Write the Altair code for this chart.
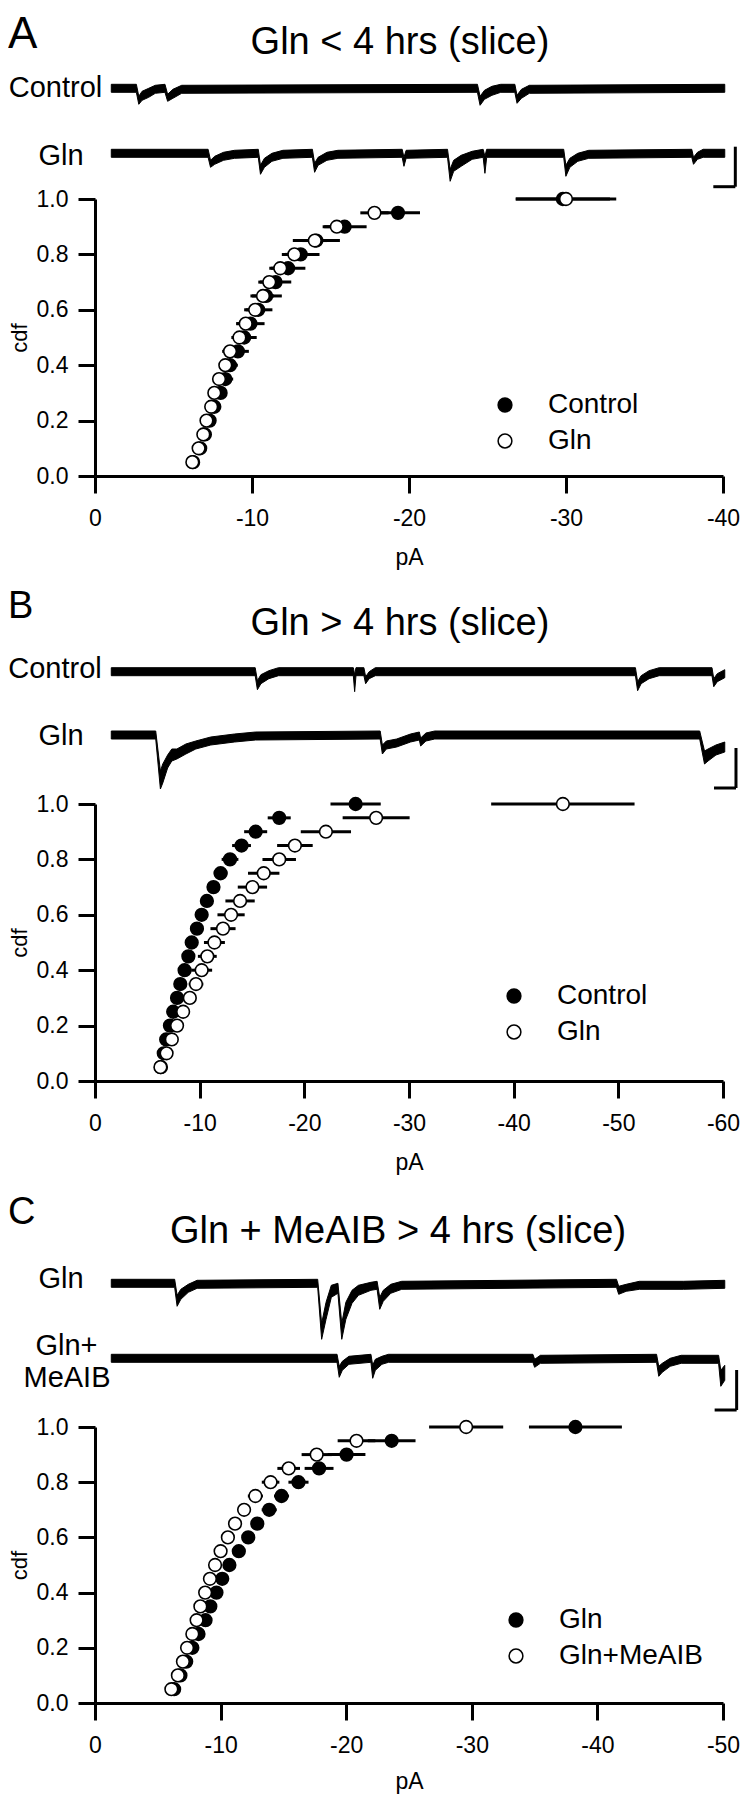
import altair as alt
import pandas as pd

FONT = "Liberation Sans"

# ------------------------------------------------------------------ data
CDF_LEVELS = [0.05, 0.10, 0.15, 0.20, 0.25, 0.30, 0.35, 0.40, 0.45, 0.50,
              0.55, 0.60, 0.65, 0.70, 0.75, 0.80, 0.85, 0.90, 0.95, 1.00]

PANEL_LETTERS = ["A", "B", "C"]
PANEL_TITLES = ["Gln < 4 hrs (slice)", "Gln > 4 hrs (slice)", "Gln + MeAIB > 4 hrs (slice)"]
SERIES_NAMES = [["Control", "Gln"], ["Control", "Gln"], ["Gln", "Gln+MeAIB"]]
X_TICKS = [[0, -10, -20, -30, -40], [0, -10, -20, -30, -40, -50, -60], [0, -10, -20, -30, -40, -50]]
Y_TICKS = [0.0, 0.2, 0.4, 0.6, 0.8, 1.0]

# panel A  (filled = Control, open = Gln)
A_CONTROL_PA = [-6.25, -6.7, -7.0, -7.3, -7.6, -8.0, -8.3, -8.6, -9.1, -9.5,
                -9.9, -10.4, -10.9, -11.5, -12.3, -13.1, -14.1, -15.9, -19.3, -29.8]
A_CONTROL_SEM = [0.2, 0.2, 0.3, 0.3, 0.3, 0.4, 0.5, 0.5, 0.7, 0.8,
                 0.9, 0.9, 1.0, 1.0, 1.1, 1.2, 1.5, 1.4, 1.4, 3.0]
A_GLN_PA = [-6.2, -6.6, -6.9, -7.1, -7.4, -7.6, -7.9, -8.3, -8.6, -9.2,
            -9.6, -10.2, -10.7, -11.1, -11.8, -12.7, -14.0, -15.4, -17.8, -30.0]
A_GLN_SEM = [0.2, 0.2, 0.2, 0.2, 0.3, 0.3, 0.4, 0.4, 0.5, 0.5,
             0.6, 0.6, 0.7, 0.7, 0.7, 0.6, 0.8, 0.8, 0.9, 3.2]

# panel B  (filled = Control, open = Gln)
B_CONTROL_PA = [-6.3, -6.57, -6.8, -7.16, -7.47, -7.84, -8.15, -8.56, -8.92, -9.24,
                -9.74, -10.19, -10.69, -11.32, -12.0, -12.9, -14.0, -15.35, -17.6, -24.9]
B_CONTROL_SEM = [0.2, 0.2, 0.2, 0.3, 0.3, 0.3, 0.3, 0.4, 0.4, 0.4,
                 0.5, 0.5, 0.5, 0.6, 0.65, 0.8, 0.9, 1.1, 1.1, 2.4]
B_GLN_PA = [-6.25, -6.84, -7.34, -7.84, -8.42, -9.06, -9.65, -10.19, -10.73, -11.41,
            -12.23, -13.0, -13.86, -15.04, -16.12, -17.6, -19.1, -22.06, -26.86, -44.7]
B_GLN_SEM = [0.2, 0.3, 0.3, 0.4, 0.5, 0.6, 0.7, 1.0, 0.9, 1.0,
             1.2, 1.3, 1.4, 1.4, 1.5, 1.6, 1.7, 2.4, 3.2, 6.85]

# panel C  (filled = Gln, open = Gln+MeAIB)
C_GLN_PA = [-6.3, -6.8, -7.26, -7.75, -8.24, -8.8, -9.18, -9.67, -10.13, -10.7,
            -11.45, -12.2, -12.92, -13.87, -14.85, -16.2, -17.84, -20.03, -23.62, -38.25]
C_GLN_SEM = [0.2, 0.2, 0.3, 0.3, 0.3, 0.4, 0.4, 0.4, 0.4, 0.5,
             0.5, 0.5, 0.5, 0.6, 0.6, 0.8, 1.15, 1.5, 1.9, 3.7]
C_MEAIB_PA = [-6.08, -6.6, -7.0, -7.33, -7.75, -8.09, -8.39, -8.77, -9.15, -9.56,
              -10.0, -10.58, -11.15, -11.87, -12.77, -13.98, -15.42, -17.65, -20.82, -29.55]
C_MEAIB_SEM = [0.2, 0.2, 0.2, 0.3, 0.3, 0.3, 0.3, 0.3, 0.4, 0.4,
               0.4, 0.4, 0.5, 0.5, 0.6, 0.7, 0.9, 1.2, 1.5, 2.95]

# example current traces: time (ms) and lower / upper edge of the noisy trace (pA)
A_CONTROL_T = [0, 57, 62.5, 70, 85, 100, 122, 128, 140, 160,
               832, 838, 848, 865, 885, 917, 922, 932, 950, 1394]
A_CONTROL_LO = [-2, -2, -8, -6, -4.5, -2.5, -2, -6.5, -5, -2.5,
                -2, -8.5, -5.5, -3.5, -2, -2, -7.5, -5, -2.5, -2]
A_CONTROL_HI = [2, 2, -4, -1.5, 0, 1.5, 2, -3, -0.5, 1.5,
                2, -4, -1, 1, 2, 2, -3.5, -0.5, 1.5, 2]

A_GLN_T = [0, 220, 225.5, 235, 255, 280, 334, 339, 348, 365, 390, 457, 462, 470, 490, 515,
           661, 665, 670, 764, 770, 778, 795, 820, 845, 849, 853,
           1028, 1033, 1042, 1060, 1085, 1319, 1323, 1332, 1345, 1394]
A_GLN_LO = [-2, -2, -7, -5.5, -3.5, -2.5, -2, -10.5, -7, -4, -2.5, -2, -9.5, -6, -3.5, -2.5,
            -2, -6.5, -2.5, -2, -14, -9, -6.5, -3, -2, -10, -2,
            -2, -11.5, -7, -4, -2.5, -2, -5.5, -3, -2, -2]
A_GLN_HI = [2, 2, -3.5, -1.5, 0.5, 1.5, 2, -6, -2.5, 0, 1.5, 2, -5, -2, 0.5, 1.5,
            2, -2, 1.5, 2, -8, -3.5, -1, 1, 2, -1.5, 2,
            2, -6, -2.5, 0, 1.5, 2, -2, 0.5, 2, 2]

B_CONTROL_T = [0, 327, 332, 340, 358, 380, 550, 553, 556, 574, 578, 586, 600,
               1191, 1196, 1204, 1222, 1245, 1365, 1369, 1377, 1394]
B_CONTROL_LO = [-2, -2, -9, -6, -3.5, -2, -2, -10, -2, -2, -6, -3.5, -2,
                -2, -9.5, -6, -3.5, -2, -2, -7.5, -5, -3]
B_CONTROL_HI = [2, 2, -4.5, -1.5, 0.5, 2, 2, -1.5, 2, 2, -2.5, 0, 2,
                2, -5, -2, 0.5, 2, 2, -3.5, -1, 1]

B_GLN_T = [0, 101, 111.6, 117, 128, 137.5, 149, 169.5, 192, 226, 280, 328,
           611, 616, 625, 648.5, 680, 700, 703, 715, 735, 1337, 1348, 1356, 1374, 1394]
B_GLN_LO = [-2, -2, -27, -24, -16.5, -13, -12, -9.5, -7, -5, -3.5, -2.5,
            -2, -9.5, -7, -6, -3.5, -2.5, -5.5, -3, -2, -2, -14.5, -13, -10, -8.5]
B_GLN_HI = [2, 2, -18, -14.5, -10, -7, -7, -4.5, -3, -1, 0.5, 1.5,
            2, -5, -3, -2, 0.5, 1.5, -1.5, 1, 2, 2, -8, -7, -5, -3.5]

C_GLN_T = [0, 144, 149.6, 158, 175, 195, 469, 478, 488, 500, 515, 523.7, 533, 547, 561.6, 590,
           604, 610, 618, 635, 660, 1148, 1153, 1170, 1200, 1300, 1394]
C_GLN_LO = [-2, -2, -11.5, -8, -4.5, -2.5, -2, -28, -18, -7, -5, -28, -18, -10, -6, -3.5,
            -3, -13, -9, -5, -3, -2, -5.5, -4, -3, -3, -2.5]
C_GLN_HI = [2, 2, -6, -3, -0.5, 1.5, 2, -20, -9.5, -1, 0, -20, -9.5, -3.5, -1, 0.5,
            1, -7, -3.5, -0.5, 1, 2, -1.5, -0.5, 1, 1, 1.5]

C_MEAIB_T = [0, 513, 518, 525, 540, 590, 594, 600, 615, 630, 958, 962, 975,
             1239, 1244, 1252, 1270, 1295, 1380, 1385, 1394]
C_MEAIB_LO = [-2, -2, -9.5, -6, -3, -2, -10, -6, -3, -2, -2, -4.5, -2.5,
              -2, -9, -7, -4, -2.5, -2.5, -14, -11]
C_MEAIB_HI = [2, 2, -4, -1.5, 1, 2, -3.5, -0.5, 1, 2, 2, -0.5, 1.5,
              2, -4, -2.5, 0, 1.5, 1.5, -6, -3.5]

TRACE_LABELS = [["Control", "Gln"], ["Control", "Gln"], ["Gln", "Gln+", "MeAIB"]]

# scale bars: 50 ms / 20 pA, corner position relative to the lower trace
SCALEBAR_MS = 50
SCALEBAR_PA = 20
SCALEBAR_CORNER_T = [1418, 1419.5, 1421]
SCALEBAR_CORNER_PA = [-16.7, -26.5, -25.85]

# ------------------------------------------------------------------ layout
W = 628
PANEL_H = [476, 505, 522]
CDF_H = [277, 277, 276]
SPACING = 100
TIME_DOMAIN = [-37, 1390]
TRACE_OFFSETS = [[-44.15, -76.65], [-47.85, -79.5], [-51.15, -88.65]]
LETTER_POS = [(-87, 48, 44), (-87, 42, 38), (-87, 43, 38)]
TITLE_POS = [(305, 54), (305, 59), (303, 62)]
LABEL_POS = [[(-39.5, 97), (-34, 165)],
             [(-40, 102.3), (-34, 169)],
             [(-34, 107.3), (-28.5, 174), (-28, 205.7)]]
LEGEND_POS = [(396, 391), (405, 406), (407, 425)]
PA_TITLE_PAD = [16, 16, 13]

PANEL_CDF = [
    ([A_CONTROL_PA, A_GLN_PA], [A_CONTROL_SEM, A_GLN_SEM]),
    ([B_CONTROL_PA, B_GLN_PA], [B_CONTROL_SEM, B_GLN_SEM]),
    ([C_GLN_PA, C_MEAIB_PA], [C_GLN_SEM, C_MEAIB_SEM]),
]
PANEL_TRACES = [
    [(A_CONTROL_T, A_CONTROL_LO, A_CONTROL_HI), (A_GLN_T, A_GLN_LO, A_GLN_HI)],
    [(B_CONTROL_T, B_CONTROL_LO, B_CONTROL_HI), (B_GLN_T, B_GLN_LO, B_GLN_HI)],
    [(C_GLN_T, C_GLN_LO, C_GLN_HI), (C_MEAIB_T, C_MEAIB_LO, C_MEAIB_HI)],
]

LABEL_EXPR = "datum.value == 0 ? '0' : '-' + format(abs(datum.value), 'd')"


def text_layer(txt, x, y, size, align):
    return alt.Chart(pd.DataFrame({"txt": [txt]})).mark_text(
        font=FONT, fontSize=size, align=align, baseline="alphabetic", color="black"
    ).encode(text="txt:N", x=alt.value(x), y=alt.value(y))


def make_panel(i):
    H = PANEL_H[i]
    names = SERIES_NAMES[i]
    xs_list, sems_list = PANEL_CDF[i]
    rows = []
    for name, xs, sems in zip(names, xs_list, sems_list):
        for c, x, s in zip(CDF_LEVELS, xs, sems):
            rows.append(dict(series=name, cdf=c, pA=x, lo=x + s, hi=x - s))
    cdf_df = pd.DataFrame(rows)

    xscale = alt.Scale(domain=[0, X_TICKS[i][-1]], nice=False, zero=False)
    yscale = alt.Scale(domain=[0, 1], range=[H, H - CDF_H[i]], nice=False, zero=False)
    xaxis = alt.Axis(values=X_TICKS[i], labelExpr=LABEL_EXPR, grid=False,
                     tickSize=17, tickWidth=3, domainWidth=3, tickColor="black",
                     domainColor="black", labelColor="black", titleColor="black",
                     labelFontSize=23, labelPadding=14, labelFlush=False,
                     titleFontSize=23, titleFontWeight="normal",
                     titlePadding=PA_TITLE_PAD[i])
    yaxis = alt.Axis(values=Y_TICKS, format=".1f", grid=False,
                     tickSize=17, tickWidth=3, domainWidth=3, tickColor="black",
                     domainColor="black", labelColor="black", titleColor="black",
                     labelFontSize=23, labelPadding=10, labelFlush=False,
                     titleFontSize=22, titleFontWeight="normal", titlePadding=5)

    errbars = alt.Chart(cdf_df).mark_rule(color="black", strokeWidth=3).encode(
        x=alt.X("lo:Q", scale=xscale, axis=xaxis, title="pA"),
        x2="hi:Q",
        y=alt.Y("cdf:Q", scale=yscale, axis=yaxis, title="cdf"),
    )
    lx, ly = LEGEND_POS[i]
    points = alt.Chart(cdf_df).mark_circle(size=160, stroke="black", strokeWidth=1.6,
                                           opacity=1).encode(
        x=alt.X("pA:Q", scale=xscale, axis=xaxis, title="pA"),
        y=alt.Y("cdf:Q", scale=yscale, axis=yaxis, title="cdf"),
        fill=alt.Fill("series:N", scale=alt.Scale(domain=names, range=["black", "white"]),
                      title=None,
                      legend=alt.Legend(orient="none", legendX=lx, legendY=ly,
                                        labelFontSize=28, labelFont=FONT, labelColor="black",
                                        symbolSize=190, symbolStrokeColor="black",
                                        symbolStrokeWidth=1.5, symbolType="circle",
                                        rowPadding=8, labelOffset=29, padding=0)),
    )
    cdf_layer = alt.layer(errbars, points)

    trows = []
    for name, off, (ts, los, his) in zip(names, TRACE_OFFSETS[i], PANEL_TRACES[i]):
        for t, lo, hi in zip(ts, los, his):
            trows.append(dict(trace=name, t=t, lo=off + lo, hi=off + hi))
    trace_df = pd.DataFrame(trows)
    tscale = alt.Scale(domain=TIME_DOMAIN, nice=False, zero=False)
    vscale = alt.Scale(domain=[-H / 2, 0], nice=False, zero=False)
    band = alt.Chart(trace_df).mark_area(color="black", stroke="black", strokeWidth=1,
                                         interpolate="linear").encode(
        x=alt.X("t:Q", scale=tscale, axis=None),
        y=alt.Y("lo:Q", scale=vscale, axis=None),
        y2="hi:Q",
        detail="trace:N",
    )
    ct = SCALEBAR_CORNER_T[i]
    cy = TRACE_OFFSETS[i][-1] + SCALEBAR_CORNER_PA[i]
    sb_df = pd.DataFrame([
        dict(t1=ct - SCALEBAR_MS, t2=ct, v1=cy, v2=cy),
        dict(t1=ct, t2=ct, v1=cy, v2=cy + SCALEBAR_PA),
    ])
    scalebar = alt.Chart(sb_df).mark_rule(color="black", strokeWidth=3).encode(
        x=alt.X("t1:Q", scale=tscale, axis=None), x2="t2:Q",
        y=alt.Y("v1:Q", scale=vscale, axis=None), y2="v2:Q",
    )
    trace_layer = alt.layer(band, scalebar)

    texts = []
    lxp, lyp, lfs = LETTER_POS[i]
    texts.append(text_layer(PANEL_LETTERS[i], lxp, lyp, lfs, "left"))
    tx, ty = TITLE_POS[i]
    texts.append(text_layer(PANEL_TITLES[i], tx, ty, 38, "center"))
    for lab, (px, py) in zip(TRACE_LABELS[i], LABEL_POS[i]):
        texts.append(text_layer(lab, px, py, 29, "center"))

    return alt.layer(cdf_layer, trace_layer, *texts).resolve_scale(
        x="independent", y="independent"
    ).properties(width=W, height=H)


chart = alt.vconcat(make_panel(0), make_panel(1), make_panel(2),
                    spacing=SPACING, bounds="flush").resolve_scale(
    fill="independent"
).resolve_legend(fill="independent").properties(
    padding={"top": -8, "left": 0, "right": 0, "bottom": 2}, background="white"
).configure_view(strokeWidth=0).configure_axis(
    labelFont=FONT, titleFont=FONT
).configure_text(font=FONT)

chart.save("out.html", embed_options={"renderer": "svg", "actions": False})
